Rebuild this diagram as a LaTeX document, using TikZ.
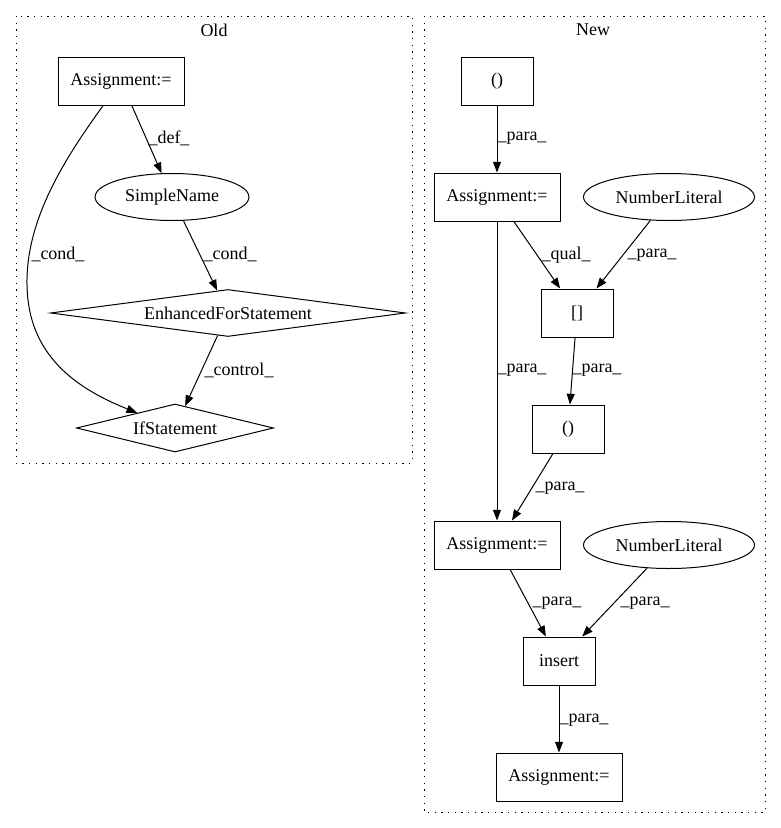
\documentclass[tikz,border=0pt]{standalone}
\usepackage{fontspec}
\setmainfont{Liberation Serif}
\usetikzlibrary{arrows.meta,shapes.geometric}
\begin{document}
\begin{tikzpicture}[x=0.75pt,y=-0.75pt,
  every node/.style={font=\fontsize{13.5pt}{15pt}\selectfont, inner sep=0pt},
  box/.style={draw, line width=0.75pt, rectangle, minimum height=36pt},
  wbox/.style={box, minimum width=94.5pt},
  sbox/.style={box, minimum width=54pt},
  oval/.style={draw, line width=0.75pt, ellipse, minimum height=35.25pt},
  dia/.style={draw, line width=0.75pt, diamond},
  edge/.style={draw, line width=0.75pt, -{Triangle[length=8pt,width=6pt]}},
  lbl/.style={fill=none},
  cluster/.style={draw, line width=0.75pt, dash pattern=on 1pt off 4pt}
]
\useasboundingbox (0,0) rectangle (781,828);
% clusters
\draw[cluster] (16,16) rectangle (412,463);
\draw[cluster] (424,16) rectangle (765,812);
\node (told) at (214,30) {Old};
\node (tnew) at (593,30) {New};
% Old nodes
\node[wbox] (a1) at (121,81) {Assignment:=};
\node[oval, minimum width=115.5pt] (sn) at (172,197) {SimpleName};
\node[dia, aspect=7.55, minimum width=266.25pt, minimum height=35.25pt] (efs) at (228,313) {EnhancedForStatement};
\node[dia, aspect=4.1, minimum width=147.75pt, minimum height=36pt] (ifs) at (175,428) {IfStatement};
% Old edges
\draw[edge] (a1) -- (sn);
\draw[edge] (sn) -- (efs);
\draw[edge] (efs) -- (ifs);
\draw[edge] (a1) .. controls (60,165) and (20,230) .. (28,300) .. controls (35,360) and (80,390) .. (ifs);
\node[lbl] (l1) at (169,138) {\_def\_};
\node[lbl] (l2) at (58,254) {\_cond\_};
\node[lbl] (l3) at (230,254) {\_cond\_};
\node[lbl] (l4) at (239,370) {\_control\_};
% New nodes
\node[sbox] (p1) at (497,81) {()};
\node[wbox] (a2) at (497,197) {Assignment:=};
\node[oval, minimum width=128.25pt] (nl1) at (669,197) {NumberLiteral};
\node[sbox] (br) at (577,313) {[]};
\node[sbox] (p2) at (568,429) {()};
\node[wbox] (a3) at (497,545) {Assignment:=};
\node[oval, minimum width=128.25pt] (nl2) at (669,545) {NumberLiteral};
\node[sbox] (ins) at (559,661) {insert};
\node[wbox] (a4) at (559,777) {Assignment:=};
% New edges
\draw[edge] (p1) -- (a2);
\draw[edge] (a2) -- (br);
\draw[edge] (nl1) -- (br);
\draw[edge] (br) -- (p2);
\draw[edge] (a2) -- (a3);
\draw[edge] (p2) -- (a3);
\draw[edge] (a3) -- (ins);
\draw[edge] (nl2) -- (ins);
\draw[edge] (ins) -- (a4);
\node[lbl] (m1) at (522,138) {\_para\_};
\node[lbl] (m2) at (566,255) {\_qual\_};
\node[lbl] (m3) at (652,255) {\_para\_};
\node[lbl] (m4) at (522,370) {\_para\_};
\node[lbl] (m5) at (597,370) {\_para\_};
\node[lbl] (m6) at (560,488) {\_para\_};
\node[lbl] (m7) at (557,603) {\_para\_};
\node[lbl] (m8) at (645,603) {\_para\_};
\node[lbl] (m9) at (584,720) {\_para\_};
\end{tikzpicture}
\end{document}
